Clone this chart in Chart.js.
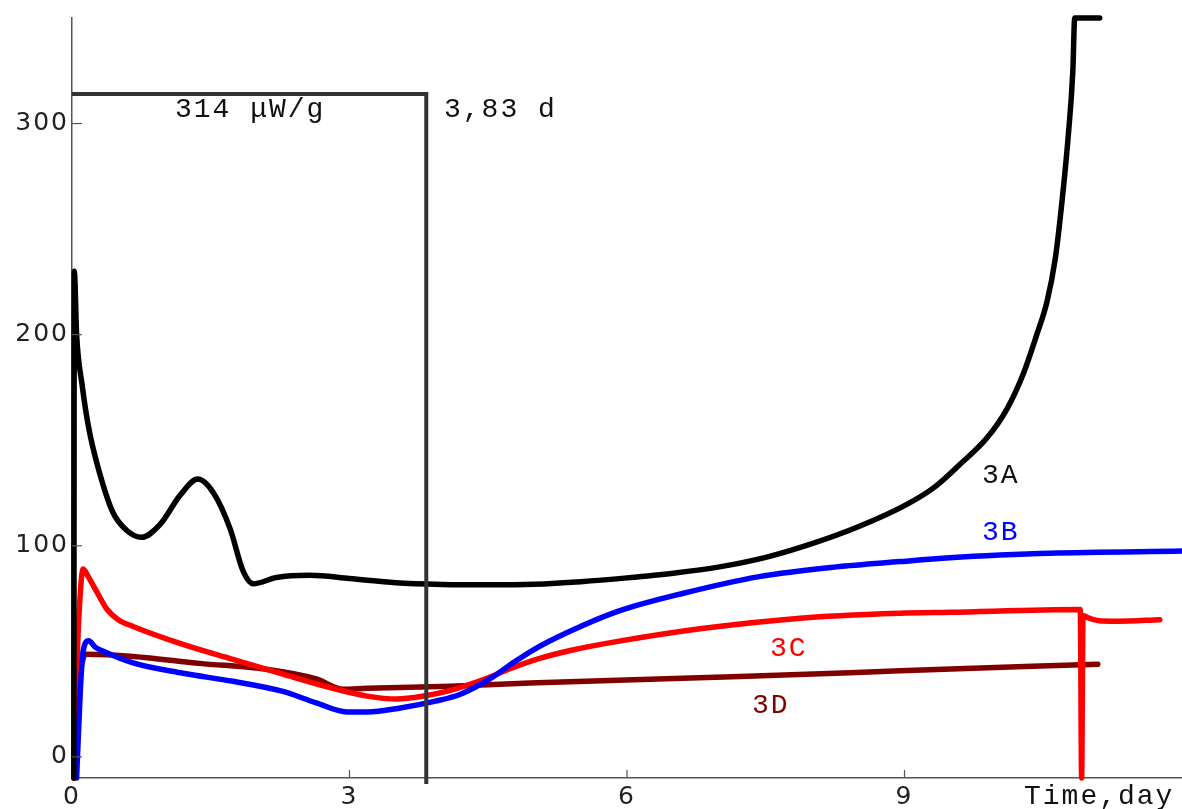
<!DOCTYPE html>
<html>
<head>
<meta charset="utf-8">
<script src="https://cdn.jsdelivr.net/npm/chart.js@4.4.1/dist/chart.umd.min.js"></script>
<style>
  html, body { margin: 0; padding: 0; background: #fff; }
  #wrap { width: 1182px; height: 809px; }
</style>
</head>
<body>
<div id="wrap"><canvas id="c" width="1182" height="809"></canvas></div>
<script>
// Axis ticks
const dayTicks = [0, 3, 6, 9];
const heatTicks = [0, 100, 200, 300];

// Heating interval: power level (μW/g) and duration (days)
const boxLevel = 314;
const boxEnd = 3.83;

// Series 3A
const t3A = [0.02, 0.025, 0.05, 0.11, 0.18, 0.27, 0.44, 0.6, 0.75, 0.95, 1.17, 1.36, 1.53, 1.71, 1.85, 1.96, 2.21, 2.57, 3.0, 3.5, 4.0, 4.5, 5.0, 5.5, 6.0, 6.5, 7.0, 7.5, 8.0, 8.5, 9.0, 9.31, 9.6, 9.89, 10.11, 10.28, 10.43, 10.54, 10.63, 10.7, 10.77, 10.82, 10.84, 11.11];
const q3A = [-10, 230, 200, 176, 156, 139, 116, 107, 104, 110, 124, 131.6, 125, 108, 88, 82, 85, 86, 84.5, 82.5, 81.7, 81.5, 81.8, 83, 84.8, 87, 90, 94.5, 101, 109, 119, 127.3, 138.6, 151, 165, 181, 200, 215.5, 236, 262, 294, 325, 350, 350];

// Series 3B
const t3B = [0.05, 0.09, 0.12, 0.18, 0.25, 0.34, 0.66, 1.2, 1.74, 2.28, 2.64, 2.97, 3.19, 3.55, 3.93, 4.2, 4.53, 4.75, 4.98, 5.36, 5.9, 6.6, 7.43, 8.26, 8.95, 9.49, 10.03, 10.57, 12.0];
const q3B = [-10, 31.5, 50, 55, 52, 50, 44.5, 39.6, 35.8, 31, 25.6, 21.3, 21.3, 23.2, 26.4, 29.7, 37.3, 44, 50.5, 59, 68.9, 77.4, 85.4, 90, 92.5, 94.3, 95.6, 96.5, 97.5];

// Series 3C
const t3C = [0.02, 0.05, 0.08, 0.12, 0.18, 0.27, 0.38, 0.5, 0.66, 1.2, 1.74, 2.28, 2.82, 3.19, 3.51, 3.8, 4.09, 4.5, 4.75, 5.03, 5.4, 5.9, 6.81, 7.84, 8.95, 9.49, 10.9, 10.915, 10.93, 10.98, 11.1, 11.3, 11.76];
const q3C = [-10, 39.6, 70.7, 89, 85, 78, 69.8, 65, 61.8, 53.3, 46.2, 39.2, 32.5, 28.8, 27.4, 28.8, 31.5, 37.5, 42, 46.3, 50.5, 54.7, 60.8, 65.6, 68, 68.5, 69.8, -10, 67, 66, 64.5, 64.3, 65];

// Series 3D
const t3D = [0.03, 0.07, 0.12, 0.16, 0.66, 1.38, 2.1, 2.65, 2.93, 3.19, 4.09, 4.95, 6.6, 8.41, 8.95, 11.09];
const q3D = [-10, 30, 46.5, 48.6, 47.6, 44.3, 41.5, 36.8, 32, 32.5, 33.5, 35, 37.3, 39.8, 40.8, 43.9];

const pts = (xs, ys) => xs.map((x, i) => ({ x, y: ys[i] }));

const curve = (label, xs, ys, color) => ({
  label,
  data: pts(xs, ys),
  borderColor: color,
  borderWidth: 5.5,
  pointRadius: 0,
  cubicInterpolationMode: 'monotone',
  borderCapStyle: 'round',
  borderJoinStyle: 'round',
  clip: false,
  fill: false
});

const axisColor = '#555';
const monoFont = '"Liberation Mono", "DejaVu Sans Mono", monospace';

// Wider spacing for the tick numbers
const spacing = {
  id: 'spacing',
  beforeDraw(chart) { chart.ctx.letterSpacing = '2px'; },
  afterDraw(chart) { chart.ctx.letterSpacing = '0px'; }
};

// Small inward tick marks and text annotations
const decorations = {
  id: 'decorations',
  afterDraw(chart) {
    const { ctx, chartArea, scales: { x, y } } = chart;
    ctx.save();
    ctx.strokeStyle = axisColor;
    ctx.lineWidth = 1.2;
    dayTicks.forEach(v => {
      if (v === 0) return;
      const px = x.getPixelForValue(v);
      ctx.beginPath();
      ctx.moveTo(px, chartArea.bottom);
      ctx.lineTo(px, chartArea.bottom - 8);
      ctx.stroke();
    });
    heatTicks.forEach(v => {
      const py = y.getPixelForValue(v);
      ctx.beginPath();
      ctx.moveTo(chartArea.left, py);
      ctx.lineTo(chartArea.left + 10, py);
      ctx.stroke();
    });

    ctx.font = '28px ' + monoFont;
    ctx.letterSpacing = '2px';
    ctx.textAlign = 'left';
    ctx.textBaseline = 'alphabetic';
    const label = (txt, px, py, color) => { ctx.fillStyle = color; ctx.fillText(txt, px, py); };
    label(boxLevel + ' μW/g', 175, 117, '#111');
    label(String(boxEnd).replace('.', ',') + ' d', 444, 117, '#111');
    label('3A', 982, 483, '#111');
    label('3B', 982, 540, '#0000ff');
    label('3C', 770, 656, '#ff0000');
    label('3D', 752, 713, '#800000');
    label('Time,day', 1024, 804, '#111');
    ctx.restore();
  }
};

new Chart(document.getElementById('c'), {
  type: 'line',
  data: {
    datasets: [
      {
        label: 'heating',
        data: pts([0, boxEnd, boxEnd], [boxLevel, boxLevel, -12.8]),
        borderColor: '#333',
        borderWidth: 4,
        pointRadius: 0,
        tension: 0,
        borderJoinStyle: 'miter',
        clip: false,
        fill: false
      },
      curve('3A', t3A, q3A, '#000000'),
      curve('3B', t3B, q3B, '#0000ff'),
      curve('3C', t3C, q3C, '#ff0000'),
      curve('3D', t3D, q3D, '#800000')
    ]
  },
  options: {
    responsive: false,
    animation: false,
    devicePixelRatio: 1,
    layout: { padding: { top: 15, right: 0, bottom: 0, left: 0 } },
    plugins: { legend: { display: false }, tooltip: { enabled: false } },
    scales: {
      x: {
        type: 'linear',
        min: 0,
        max: 12,
        grid: { display: false, drawTicks: false },
        border: { color: axisColor, width: 1.5 },
        afterBuildTicks: s => { s.ticks = dayTicks.map(v => ({ value: v })); },
        afterFit: s => { s.height = 31; },
        ticks: {
          padding: 4,
          color: '#222',
          autoSkip: false,
          maxRotation: 0,
          font: { family: '"DejaVu Sans", sans-serif', size: 25 }
        }
      },
      y: {
        type: 'linear',
        min: -10,
        max: 350,
        grid: { display: false, drawTicks: false },
        border: { color: axisColor, width: 1.5 },
        afterBuildTicks: s => { s.ticks = heatTicks.map(v => ({ value: v })); },
        afterFit: s => { s.width = 72; },
        ticks: {
          padding: 3,
          color: '#222',
          font: { family: '"DejaVu Sans", sans-serif', size: 25 }
        }
      }
    }
  },
  plugins: [spacing, decorations]
});
</script>
</body>
</html>
